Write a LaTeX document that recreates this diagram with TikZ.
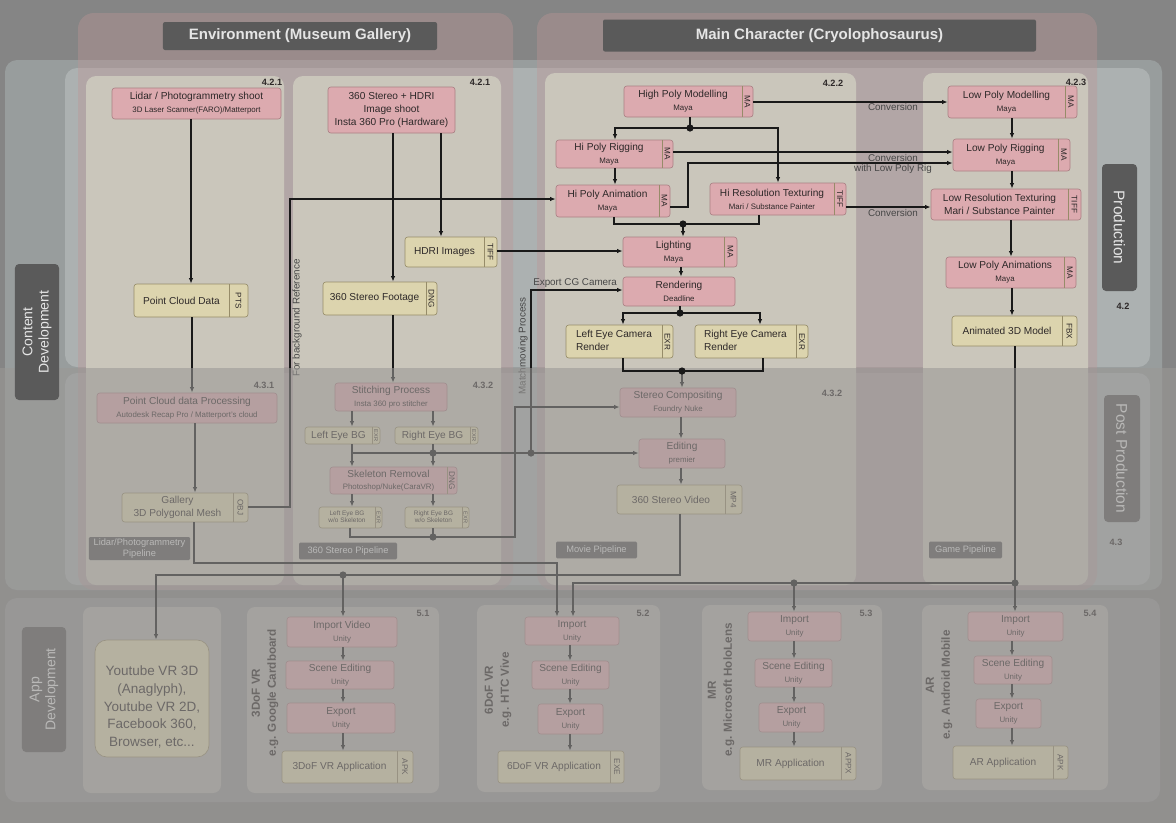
\documentclass[tikz,border=0pt]{standalone}
\usepackage{fontspec}
\setmainfont{Liberation Sans}
\usetikzlibrary{fit,arrows.meta}

\definecolor{bgc}{RGB}{133,133,133}
\definecolor{cband}{RGB}{152,157,157}
\definecolor{rowc}{RGB}{172,177,177}
\definecolor{panelc}{RGB}{190,150,150}
\definecolor{colc}{RGB}{202,198,187}
\definecolor{pinkf}{RGB}{220,170,175}
\definecolor{pinkd}{RGB}{170,128,132}
\definecolor{beigef}{RGB}{220,212,174}
\definecolor{beiged}{RGB}{150,140,105}
\definecolor{txtc}{RGB}{45,40,40}
\definecolor{labc}{RGB}{90,90,90}
\definecolor{linec}{RGB}{25,25,25}
\definecolor{ovc}{RGB}{154,152,150}
\definecolor{appband}{RGB}{150,150,150}
\definecolor{apppanel}{RGB}{178,176,172}

\newcommand\sbt[1]{{\fontsize{5.6}{7}\selectfont #1}}
\newcommand\lefttxt[1]{\begin{tabular}{@{}l@{}}#1\end{tabular}}
\newcommand\tny[1]{{\fontsize{4.6}{5.4}\selectfont\begin{tabular}{@{}c@{}}#1\end{tabular}}}
\newcommand\tgs[1]{{\fontsize{4}{4}\selectfont #1}}

\newcommand\pnode[9]{%
  \node[#6, fit={(#2,#3)(#4,#5)}] (#1) {};
  \node[ntext] (#1-t) at ({(#2+#4-#7)/2},{(#3+#5)/2}) {#8};
  \ifnum#7>0
    \draw[sepl] ({#4-#7},#3) -- ({#4-#7},#5);
    \node[tagtext, rotate=-90] (#1-g) at ({#4-#7/2},{(#3+#5)/2}) {#9};
  \fi}

\tikzset{
  pinkb/.style={draw=pinkd, fill=pinkf, rounded corners=0.7mm, inner sep=0pt, line width=0.45pt},
  beigeb/.style={draw=beiged, fill=beigef, rounded corners=0.7mm, inner sep=0pt, line width=0.45pt},
  ntext/.style={text=txtc, font=\fontsize{7.2}{9.2}\selectfont, align=center, inner sep=0pt},
  tagtext/.style={text=txtc, font=\fontsize{5.8}{6}\selectfont, inner sep=0pt},
  sepl/.style={draw=beiged, line width=0.45pt},
  ln/.style={draw=linec, line width=0.95pt},
  arr/.style={ln, -{Latex[length=1.4mm,width=1.1mm]}},
  secn/.style={text=txtc, font=\bfseries\fontsize{6.5}{7}\selectfont, inner sep=0pt},
  lab/.style={fill=labc, text=white!90!black, rounded corners=1mm, inner sep=0pt, font=\fontsize{10}{11.5}\selectfont, align=center},
  ttl/.style={fill=labc, text=white!90!black, rounded corners=0.5mm, inner sep=0pt, font=\bfseries\fontsize{10.7}{12}\selectfont},
  plab/.style={fill=labc, text=white!90!black, rounded corners=0.3mm, inner sep=0pt, font=\fontsize{6.6}{7.6}\selectfont, align=center},
  ctext/.style={text=black!72, font=\fontsize{7}{8}\selectfont, inner sep=0pt},
  plat/.style={text=txtc, font=\bfseries\fontsize{8.3}{11.4}\selectfont, align=center, inner sep=0pt},
}

\begin{document}
\begin{tikzpicture}[x={(0.25mm,0)}, y={(0,-0.25mm)}]
\useasboundingbox (0,0) rectangle (1176,823);
\fill[bgc] (0,0) rectangle (1176,823);

% bands
\fill[cband, rounded corners=3mm] (5,60) rectangle (1162,590);
\fill[rowc, rounded corners=3mm] (65,68) rectangle (1150,367);
\fill[rowc, rounded corners=3mm] (65,373) rectangle (1150,585);
\fill[appband, rounded corners=3mm] (5,598) rectangle (1160,802);
% character / environment panels
\fill[panelc, opacity=0.38, rounded corners=4mm] (78,13) rectangle (513,590);
\fill[panelc, opacity=0.38, rounded corners=4mm] (537,13) rectangle (1097,590);
% pipeline columns
\fill[colc, rounded corners=2.5mm] (86,76) rectangle (284,585);
\fill[colc, rounded corners=2.5mm] (293,76) rectangle (501,585);
\fill[colc, rounded corners=2.5mm] (545,73) rectangle (856,585);
\fill[colc, rounded corners=2.5mm] (923,73) rectangle (1088,585);
% app panels
\fill[apppanel, rounded corners=2mm] (83,607) rectangle (221,793);
\fill[apppanel, rounded corners=2mm] (247,607) rectangle (439,793);
\fill[apppanel, rounded corners=2mm] (477,605) rectangle (660,792);
\fill[apppanel, rounded corners=2mm] (702,605) rectangle (882,790);
\fill[apppanel, rounded corners=2mm] (922,605) rectangle (1108,790);

% titles and side labels
\node[ttl, minimum width=68.5mm, minimum height=7mm] (envt) at (300,36) {Environment (Museum Gallery)};
\node[ttl, minimum width=108.25mm, minimum height=8mm] (chart) at (819.5,35.5) {Main Character (Cryolophosaurus)};
\node[lab, rotate=-90, minimum width=31.75mm, minimum height=8.75mm, font=\fontsize{11}{12}\selectfont] (prodl) at (1119.5,227.5) {Production};
\node[secn] (n42) at (1123,306) {4.2};
\node[lab, rotate=-90, minimum width=31.75mm, minimum height=9mm, font=\fontsize{11}{12}\selectfont] (postl) at (1122,458.5) {Post Production};
\node[secn] (n43) at (1116,542) {4.3};
\node[lab, rotate=90, minimum width=31.25mm, minimum height=11mm] (appl) at (44,689.5) {App\\Development};

% section numbers
\node[secn] (s1) at (272,82) {4.2.1};
\node[secn] (s2) at (480,82) {4.2.1};
\node[secn] (s3) at (833,83) {4.2.2};
\node[secn] (s4) at (1076,82) {4.2.3};
\node[secn] (s5) at (264,385) {4.3.1};
\node[secn] (s6) at (483,385) {4.3.2};
\node[secn] (s7) at (832,393) {4.3.2};
\node[secn] (s8) at (423,613) {5.1};
\node[secn] (s9) at (643,613) {5.2};
\node[secn] (s10) at (866,613) {5.3};
\node[secn] (s11) at (1090,613) {5.4};

% pipeline labels
\node[plab, minimum width=25.25mm, minimum height=5.75mm] (pl1) at (139.5,548.5) {Lidar/Photogrammetry\\Pipeline};
\node[plab, minimum width=24.5mm, minimum height=4.2mm] (pl2) at (348,551) {360 Stereo Pipeline};
\node[plab, minimum width=20.25mm, minimum height=4.2mm] (pl3) at (596.5,550) {Movie Pipeline};
\node[plab, minimum width=18.25mm, minimum height=4.2mm] (pl4) at (965.5,550) {Game Pipeline};

% production nodes
\pnode{lidar}{112}{88}{281}{119}{pinkb}{0}{Lidar / Photogrammetry shoot\\\sbt{3D Laser Scanner(FARO)/Matterport}}{}
\pnode{sshoot}{328}{87}{455}{133}{pinkb}{0}{360 Stereo + HDRI\\Image shoot\\Insta 360 Pro (Hardware)}{}
\pnode{pcd}{134}{284}{248}{317}{beigeb}{19}{Point Cloud Data}{PTS}
\pnode{hdri}{405}{237}{497}{267}{beigeb}{13}{HDRI Images}{TIFF}
\pnode{sfoot}{323}{282}{437}{315}{beigeb}{11}{360 Stereo Footage}{DNG}
\pnode{hpm}{624}{86}{753}{117}{pinkb}{11}{High Poly Modelling\\\sbt{Maya}}{MA}
\pnode{hpr}{556}{140}{673}{168}{pinkb}{11}{Hi Poly Rigging\\\sbt{Maya}}{MA}
\pnode{hpa}{556}{185}{670}{217}{pinkb}{11}{Hi Poly Animation\\\sbt{Maya}}{MA}
\pnode{hrt}{710}{183}{846}{215}{pinkb}{12}{Hi Resolution Texturing\\\sbt{Mari / Substance Painter}}{TIFF}
\pnode{light}{623}{237}{737}{267}{pinkb}{13}{Lighting\\\sbt{Maya}}{MA}
\pnode{rend}{623}{277}{735}{306}{pinkb}{0}{Rendering\\\sbt{Deadline}}{}
\pnode{ler}{566}{325}{673}{358}{beigeb}{11}{\lefttxt{Left Eye Camera\\Render}}{EXR}
\pnode{rer}{695}{325}{808}{358}{beigeb}{12}{\lefttxt{Right Eye Camera\\Render}}{EXR}
\pnode{lpm}{948}{86}{1077}{118}{pinkb}{12}{Low Poly Modelling\\\sbt{Maya}}{MA}
\pnode{lpr}{953}{139}{1070}{171}{pinkb}{12}{Low Poly Rigging\\\sbt{Maya}}{MA}
\pnode{lrt}{931}{189}{1081}{220}{pinkb}{13}{Low Resolution Texturing\\Mari / Substance Painter}{TIFF}
\pnode{lpa}{946}{257}{1076}{288}{pinkb}{12}{Low Poly Animations\\\sbt{Maya}}{MA}
\pnode{atd}{952}{316}{1077}{346}{beigeb}{15}{Animated 3D Model}{FBX}

% post-production nodes
\pnode{pcp}{97}{393}{277}{423}{pinkb}{0}{Point Cloud data Processing\\\sbt{Autodesk Recap Pro / Matterport's cloud}}{}
\pnode{gal}{122}{493}{248}{522}{beigeb}{15}{Gallery\\3D Polygonal Mesh}{OBJ}
\pnode{stitch}{335}{383}{447}{411}{pinkb}{0}{Stitching Process\\\sbt{Insta 360 pro stitcher}}{}
\pnode{lebg}{305}{427}{380}{444}{beigeb}{8}{Left Eye BG}{\tgs{EXR}}
\pnode{rebg}{395}{427}{478}{444}{beigeb}{8}{Right Eye BG}{\tgs{EXR}}
\pnode{skel}{330}{467}{457}{494}{pinkb}{10}{Skeleton Removal\\[-1pt]\sbt{Photoshop/Nuke(CaraVR)}}{DNG}
\pnode{lewo}{319}{507}{382}{528}{beigeb}{7}{\tny{Left Eye BG\\w/o Skeleton}}{\tgs{EXR}}
\pnode{rewo}{405}{507}{469}{528}{beigeb}{7}{\tny{Right Eye BG\\w/o Skeleton}}{\tgs{EXR}}
\pnode{scomp}{620}{388}{736}{417}{pinkb}{0}{Stereo Compositing\\\sbt{Foundry Nuke}}{}
\pnode{edit}{639}{439}{725}{468}{pinkb}{0}{Editing\\\sbt{premier}}{}
\pnode{svid}{617}{485}{742}{514}{beigeb}{17}{360 Stereo Video}{MP4}

% app development nodes
\node[beigeb, rounded corners=3mm, fit={(95,640)(209,757)}] (yt) {};
\node[ntext, font=\fontsize{9.6}{12.6}\selectfont] (yt-t) at (152,707) {Youtube VR 3D\\(Anaglyph),\\Youtube VR 2D,\\Facebook 360,\\Browser, etc...};
\pnode{iv}{287}{617}{397}{647}{pinkb}{0}{Import Video\\\sbt{Unity}}{}
\pnode{seA}{286}{661}{394}{689}{pinkb}{0}{Scene Editing\\\sbt{Unity}}{}
\pnode{exA}{287}{703}{395}{733}{pinkb}{0}{Export\\\sbt{Unity}}{}
\pnode{appA}{282}{751}{413}{783}{beigeb}{16}{3DoF VR Application}{APK}
\pnode{imB}{525}{617}{619}{645}{pinkb}{0}{Import\\\sbt{Unity}}{}
\pnode{seB}{532}{661}{609}{689}{pinkb}{0}{Scene Editing\\\sbt{Unity}}{}
\pnode{exB}{538}{704}{603}{734}{pinkb}{0}{Export\\\sbt{Unity}}{}
\pnode{appB}{498}{751}{624}{783}{beigeb}{14}{6DoF VR Application}{EXE}
\pnode{imC}{748}{612}{841}{641}{pinkb}{0}{Import\\\sbt{Unity}}{}
\pnode{seC}{755}{659}{832}{687}{pinkb}{0}{Scene Editing\\\sbt{Unity}}{}
\pnode{exC}{759}{703}{824}{732}{pinkb}{0}{Export\\\sbt{Unity}}{}
\pnode{appC}{740}{747}{856}{780}{beigeb}{15}{MR Application}{APPX}
\pnode{imD}{968}{612}{1063}{641}{pinkb}{0}{Import\\\sbt{Unity}}{}
\pnode{seD}{974}{656}{1052}{684}{pinkb}{0}{Scene Editing\\\sbt{Unity}}{}
\pnode{exD}{976}{699}{1041}{728}{pinkb}{0}{Export\\\sbt{Unity}}{}
\pnode{appD}{953}{746}{1068}{779}{beigeb}{15}{AR Application}{APK}

\node[plat, rotate=90] (pA) at (265,693) {3DoF VR\\e.g. Google Cardboard};
\node[plat, rotate=90] (pB) at (498,690) {6DoF VR\\e.g. HTC Vive};
\node[plat, rotate=90] (pC) at (721,690) {MR\\e.g. Microsoft HoloLens};
\node[plat, rotate=90] (pD) at (939,685) {AR\\e.g. Android Mobile};

% junction points
\coordinate (j1) at (690,128);
\coordinate (j2) at (683,224);
\coordinate (j3) at (680,313);
\coordinate (j4) at (682,371);
\coordinate (j5) at (1015,583);
\coordinate (j6) at (794,583);
\coordinate (j7) at (531,453);
\coordinate (j8) at (433,453);
\coordinate (j9) at (433,537);
\coordinate (j10) at (343,575);

% production connectors
\draw[arr] (lidar.south -| 191,0) -- (pcd.north -| 191,0);
\draw[arr] (sshoot.south -| 393,0) -- (sfoot.north -| 393,0);
\draw[arr] (sshoot.south -| 441,0) -- (hdri.north -| 441,0);
\draw[arr] (hdri.east |- 0,251) -- (light.west |- 0,251);
\draw[arr] (hpm.east |- 0,102) -- (lpm.west |- 0,102);
\node[ctext] (cv1) at (893,107) {Conversion};
\draw[ln] (hpm.south -| j1) -- (j1);
\draw[arr] (j1) -| (hpr.north -| 615,0);
\draw[arr] (j1) -| (hrt.north -| 778,0);
\fill[linec] (j1) circle (0.9mm);
\draw[arr] (hpr.south -| 615,0) -- (hpa.north -| 615,0);
\draw[arr] (hpr.east |- 0,152) -- (lpr.west |- 0,152);
\draw[arr] (hpa.east |- 0,207) -- (688,207) |- (lpr.west |- 0,163);
\node[ctext] (cv2) at (893,158) {Conversion};
\node[ctext] (cv3) at (893,169) {with Low Poly Rig};
\draw[arr] (hrt.east |- 0,207) -- (lrt.west |- 0,207);
\node[ctext] (cv4) at (893,213) {Conversion};
\draw[ln] (hpa.south -| 614,0) |- (j2) -| (hrt.south -| 759,0);
\draw[arr] (j2) -- (light.north -| j2);
\fill[linec] (j2) circle (0.9mm);
\draw[arr] (light.south -| 681,0) -- (rend.north -| 681,0);
\draw[ln] (rend.south -| j3) -- (j3);
\draw[arr] (j3) -| (ler.north -| 623,0);
\draw[arr] (j3) -| (rer.north -| 760,0);
\fill[linec] (j3) circle (0.9mm);
\draw[arr] (lpm.south -| 1012,0) -- (lpr.north -| 1012,0);
\draw[arr] (lpr.south -| 1012,0) -- (lrt.north -| 1012,0);
\draw[arr] (lrt.south -| 1011,0) -- (lpa.north -| 1011,0);
\draw[arr] (lpa.south -| 1012,0) -- (atd.north -| 1012,0);
\draw[ln] (atd.south -| j5) -- (j5);
\draw[arr] (j5) -- (imD.north -| j5);
\draw[arr] (j5) -| (imB.north -| 573,0);
\draw[arr] (j6) -- (imC.north -| j6);
\fill[linec] (j5) circle (0.9mm);
\fill[linec] (j6) circle (0.9mm);
\draw[arr] (gal.east |- 0,507) -| (290,199) -- (hpa.west |- 0,199);
\node[ctext, rotate=90] (fbr) at (297,318) {For background Reference};
\draw[arr] (j7) |- (rend.west |- 0,290);
\node[ctext, anchor=south west] (ecg) at (533,288) {Export CG Camera};
\node[ctext, rotate=90] (mmp) at (523,346) {Matchmoving Process};
\draw[arr] (j4) -- (scomp.north -| j4);

% post-production connectors
\draw[arr] (pcd.south -| 192,0) -- (pcp.north -| 192,0);
\draw[arr] (pcp.south -| 195,0) -- (gal.north -| 195,0);
\draw[arr] (sfoot.south -| 393,0) -- (stitch.north -| 393,0);
\draw[arr] (stitch.south -| 352,0) -- (lebg.north -| 352,0);
\draw[arr] (stitch.south -| 433,0) -- (rebg.north -| 433,0);
\draw[arr] (lebg.south -| 352,0) -- (skel.north -| 352,0);
\draw[arr] (rebg.south -| j8) -- (skel.north -| j8);
\draw[arr] (lebg.south -| 352,0) |- (edit.west |- j8);
\fill[linec] (j8) circle (0.9mm);
\fill[linec] (j7) circle (0.9mm);
\draw[arr] (skel.south -| 352,0) -- (lewo.north -| 352,0);
\draw[arr] (skel.south -| 433,0) -- (rewo.north -| 433,0);
\draw[arr] (lewo.south -| 350,0) |- (515,537) |- (scomp.west |- 0,407);
\draw[ln] (rewo.south -| j9) -- (j9);
\fill[linec] (j9) circle (0.9mm);
\draw[arr] (scomp.south -| 681,0) -- (edit.north -| 681,0);
\draw[arr] (edit.south -| 681,0) -- (svid.north -| 681,0);
\draw[arr] (svid.south -| 680,0) |- (156,575) -- (yt.north -| 156,0);
\draw[arr] (j10) -- (iv.north -| j10);
\fill[linec] (j10) circle (0.9mm);
\draw[arr] (gal.south -| 194,0) |- (557,563) -- (imB.north -| 557,0);

% app connectors
\draw[arr] (iv.south -| 343,0) -- (seA.north -| 343,0);
\draw[arr] (seA.south -| 343,0) -- (exA.north -| 343,0);
\draw[arr] (exA.south -| 343,0) -- (appA.north -| 343,0);
\draw[arr] (imB.south -| 570,0) -- (seB.north -| 570,0);
\draw[arr] (seB.south -| 570,0) -- (exB.north -| 570,0);
\draw[arr] (exB.south -| 570,0) -- (appB.north -| 570,0);
\draw[arr] (imC.south -| 794,0) -- (seC.north -| 794,0);
\draw[arr] (seC.south -| 794,0) -- (exC.north -| 794,0);
\draw[arr] (exC.south -| 794,0) -- (appC.north -| 794,0);
\draw[arr] (imD.south -| 1012,0) -- (seD.north -| 1012,0);
\draw[arr] (seD.south -| 1012,0) -- (exD.north -| 1012,0);
\draw[arr] (exD.south -| 1012,0) -- (appD.north -| 1012,0);

% fading overlay for post production and app development
\fill[ovc, opacity=0.58] (0,368) rectangle (1176,823);

% elements kept dark above the overlay
\draw[ln] (ler.south -| 623,0) |- (j4) -| (rer.south -| 763,0);
\fill[linec] (j4) circle (0.9mm);
\node[lab, rotate=90, minimum width=34mm, minimum height=11mm] (cdl) at (37,332) {Content\\Development};
\end{tikzpicture}
\end{document}
